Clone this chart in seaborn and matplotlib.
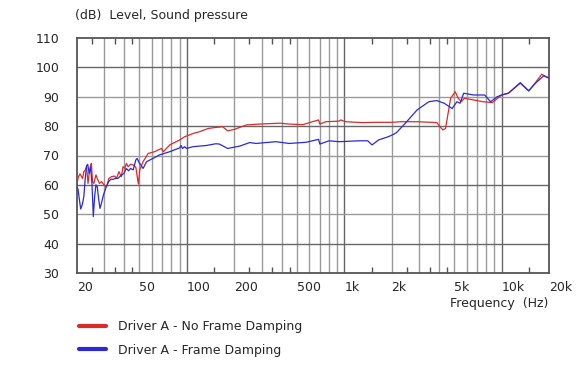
import numpy as np
import pandas as pd
import matplotlib
matplotlib.use("Agg")
import matplotlib.pyplot as plt
import seaborn as sns
from matplotlib.ticker import FixedLocator, NullFormatter

# ---- data ----
label_red = "Driver A - No Frame Damping"
label_blue = "Driver A - Frame Damping"

freq_red = [20.0, 20.5, 21.0, 21.8, 22.2, 22.6, 23.1, 23.6, 24.0, 24.5, 24.8, 25.2, 25.7, 26.5,
            27.0, 27.9, 28.8, 29.5, 30.6, 31.2, 32.0, 33.3, 34.9, 35.8, 37.1, 38.4, 39.4, 40.4,
            41.4, 42.4, 44.0, 45.7, 47.5, 48.4, 49.3, 50.3, 52.8, 56.9, 62.5, 69, 71, 78, 90.3,
            97, 104, 109.6, 120.6, 136.8, 150, 169, 182, 201, 239, 289, 391, 450, 546, 628, 688,
            700, 765, 928, 950, 1022, 1300, 1588, 2014, 2290, 2942, 3880, 4055, 4240, 4400,
            4534, 4745, 5077, 5300, 5547, 5800, 6647, 7619, 8733, 9145, 9998, 11040, 13140,
            14870, 16400, 18000, 19000, 20000]
db_red = [59.9, 62.8, 63.7, 62.2, 64.5, 65.0, 66.2, 60.5, 63.9, 66.7, 67.3, 61.1, 60.5, 63.4,
          62.2, 60.5, 61.1, 60.3, 59.4, 59.9, 62.2, 62.8, 63.0, 62.2, 64.5, 62.8, 66.2, 65.6,
          67.3, 66.2, 67.0, 66.8, 66.0, 63.0, 60.3, 65.1, 67.9, 70.7, 71.3, 72.4, 71.3, 73.6, 75.3,
          76.4, 77.0, 77.5, 78.1, 79.2, 79.5, 79.8, 78.4, 78.9, 80.4, 80.7, 81.0, 80.7, 80.5, 81.5, 82.1,
          80.7, 81.5, 81.7, 82.1, 81.5, 81.2, 81.3, 81.3, 81.5, 81.5, 81.2, 79.8, 78.7, 79.2,
          83.2, 89.5, 91.7, 89.5, 88.3, 89.5, 88.9, 88.3, 88.0, 88.9, 90.6, 91.2, 94.6,
          92.0, 94.8, 97.7, 96.8, 96.5]

freq_blue = [20.0, 20.4, 20.8, 21.2, 21.7, 22.2, 22.6, 23.1, 23.5, 24.0, 24.5, 25.0, 25.5, 26.0,
             26.5, 27.0, 27.6, 28.1, 28.7, 29.2, 29.8, 30.3, 30.9, 31.9, 32.9, 34.1, 35.3, 36.5,
             37.9, 39.9, 41.3, 42.7, 44.0, 45.7, 47.5, 48.4, 49.8, 50.3, 52.8, 55.6, 61, 67.1, 78,
             90.3, 92, 94, 97, 99.5, 109.6, 133, 153, 161, 182, 217, 251, 276, 318, 368, 447, 573,
             688, 700, 802, 928, 1240, 1412, 1503, 1655, 1908, 2060, 2149, 2438, 2903, 3450,
             3870, 4315, 4850, 5200, 5450, 5742, 6647, 7806, 8518, 9372, 10000, 11040, 13140,
             14870, 16400, 18570, 20000]
db_blue = [59.4, 58.5, 55.0, 51.8, 53.3, 56.0, 61.5, 66.5, 67.0, 63.9, 66.0, 60.5, 49.2, 56.0,
           60.0, 59.4, 55.0, 52.0, 53.7, 55.4, 57.1, 58.2, 59.4, 61.1, 61.9, 61.9, 62.2, 62.2,
           63.0, 63.9, 65.6, 64.8, 65.6, 65.1, 68.5, 69.0, 67.6, 67.3, 65.6, 67.9, 69.0, 70.2, 71.3,
           72.6, 73.4, 72.4, 73.0, 72.4, 73.0, 73.4, 74.0, 73.9, 72.4, 73.2, 74.4, 74.1, 74.4, 74.7, 74.1, 74.5,
           75.5, 73.9, 75.0, 74.7, 75.0, 75.0, 73.6, 75.3, 76.4, 77.2, 77.8, 80.9, 85.5, 88.3,
           88.7, 87.8, 86.0, 88.3, 87.8, 91.2, 90.6, 90.6, 88.3, 90.0, 90.6, 91.2, 94.8,
           92.0, 94.6, 97.2, 96.3]

x_ticks = [20, 50, 100, 200, 500, 1000, 2000, 5000, 10000, 20000]
x_tick_labels = ["20", "50", "100", "200", "500", "1k", "2k", "5k", "10k", "20k"]
y_ticks = [30, 40, 50, 60, 70, 80, 90, 100, 110]

df = pd.DataFrame({
    "freq": freq_red + freq_blue,
    "db": db_red + db_blue,
    "series": [label_red] * len(freq_red) + [label_blue] * len(freq_blue),
})

# ---- style ----
sns.set_style("white")
plt.rcParams["font.family"] = ["DejaVu Sans"]
plt.rcParams["font.size"] = 9

RED = "#dc2a2a"
BLUE = "#2a2ad8"
GRID_LIGHT = "#9a9a9a"
GRID_DARK = "#666666"
SPINE = "#555555"

fig = plt.figure(figsize=(5.78, 3.90), dpi=100)
ax = fig.add_axes([76.7 / 578, 1 - 273 / 390, (549 - 76.7) / 578, (273 - 38) / 390])

ax.set_xscale("log")
ax.set_xlim(20, 20000)
ax.set_ylim(30, 110)

# grid lines
for dec in [10, 100, 1000, 10000]:
    for m in range(1, 10):
        f = dec * m
        if 20 < f < 20000:
            col = GRID_DARK if m == 1 else GRID_LIGHT
            ax.axvline(f, color=col, lw=1.0, zorder=0)
for yv in y_ticks[1:-1]:
    col = GRID_DARK if yv % 20 == 0 else GRID_LIGHT
    ax.axhline(yv, color=col, lw=1.0, zorder=0)

sns.lineplot(data=df, x="freq", y="db", hue="series", palette=[RED, BLUE],
             sort=False, estimator=None, lw=0.9, ax=ax, legend=True, zorder=3)

handles, labels = ax.get_legend_handles_labels()
ax.get_legend().remove()

ax.set_xticks(x_ticks)
ax.set_xticklabels(x_tick_labels)
for lbl in ax.get_xticklabels():
    lbl.set_ha("left")
ax.xaxis.set_minor_locator(FixedLocator([25, 35, 45, 150, 250, 350, 450,
                                         1500, 2500, 3500, 4500, 15000]))
ax.xaxis.set_minor_formatter(NullFormatter())
ax.tick_params(axis="x", which="major", length=0, pad=6, labelsize=9)
ax.tick_params(axis="x", which="minor", direction="in", length=4, width=1.0,
               color=SPINE, top=True, bottom=True)
ax.set_yticks(y_ticks)
ax.tick_params(axis="y", which="major", length=0, pad=12.5, labelsize=9)
ax.set_xlabel("")
ax.set_ylabel("")

for sp in ax.spines.values():
    sp.set_color(SPINE)
    sp.set_linewidth(1.3)
    sp.set_visible(True)

fig.text(75 / 578, 1 - 16 / 390, "(dB)  Level, Sound pressure", ha="left", va="center", fontsize=9)
fig.text(548 / 578, 1 - 304 / 390, "Frequency  (Hz)", ha="right", va="center", fontsize=9)

leg = fig.legend(handles, labels, loc="upper left",
                 bbox_to_anchor=(79 / 578, 1 - 320 / 390),
                 bbox_transform=fig.transFigure, frameon=False, borderpad=0,
                 borderaxespad=0, handlelength=2.15, handletextpad=0.95,
                 labelspacing=0.85, fontsize=9)
for ln in leg.get_lines():
    ln.set_linewidth(3.0)

fig.savefig("out.png", dpi=100)
